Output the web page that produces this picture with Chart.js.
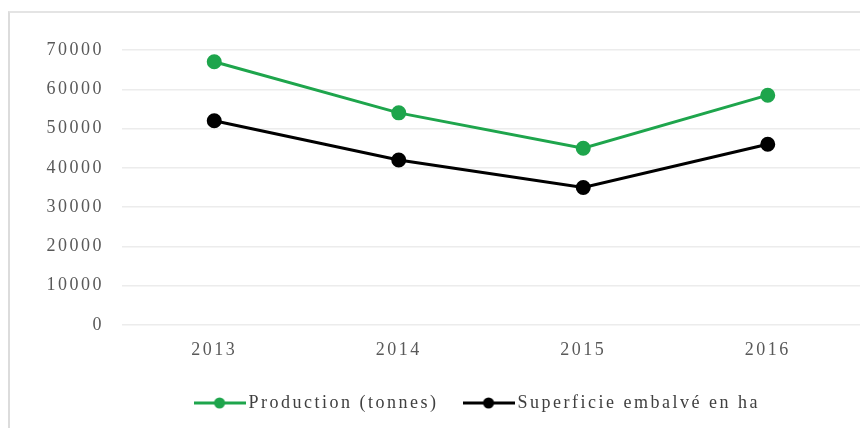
<!DOCTYPE html>
<html>
<head>
<meta charset="utf-8">
<script src="https://cdn.jsdelivr.net/npm/chart.js@4"></script>
<style>
  html, body { margin: 0; padding: 0; background: #fff; }
  #frame { position: absolute; left: 8px; top: 11px; width: 860px; height: 430px;
           border-left: 2px solid #dcdcdc; border-top: 2px solid #e4e4e4; }
  #wrap { position: absolute; left: 0; top: 0; width: 860px; height: 428px; }
</style>
</head>
<body>
<div id="frame"></div>
<div id="wrap"><canvas id="lineChart" width="860" height="428"></canvas></div>
<script>
  const years = ['2013', '2014', '2015', '2016'];
  const production = [67000, 54000, 45000, 58500];
  const superficie = [52000, 42000, 35000, 46000];
  const yTicks = [0, 10000, 20000, 30000, 40000, 50000, 60000, 70000];

  const green = '#1ea54c';
  const black = '#000000';

  // little line + dot icon for the legend
  function legendIcon(color) {
    const c = document.createElement('canvas');
    c.width = 52; c.height = 14;
    const g = c.getContext('2d');
    g.strokeStyle = color;
    g.lineWidth = 3;
    g.beginPath(); g.moveTo(0, 7); g.lineTo(52, 7); g.stroke();
    g.fillStyle = color;
    g.beginPath(); g.arc(26, 7, 5.5, 0, Math.PI * 2); g.fill();
    return c;
  }

  const spacing = {
    id: 'spacing',
    beforeInit(chart) { chart.ctx.letterSpacing = '2.5px'; },
    beforeDraw(chart) { chart.ctx.letterSpacing = '2.5px'; },
    afterLayout(chart) {
      // legend sits a little right of the canvas middle in the original
      chart.legend.left = 39;
      chart.legend.right = 813;
    }
  };

  const ctx = document.getElementById('lineChart').getContext('2d');
  const chart = new Chart(ctx, {
    type: 'line',
    data: {
      labels: years,
      datasets: [{
        label: 'Production (tonnes)',
        data: production,
        borderColor: green,
        backgroundColor: green,
        borderWidth: 3,
        pointRadius: 6,
        pointHoverRadius: 6,
        tension: 0
      }, {
        label: 'Superficie embalvé en ha',
        data: superficie,
        borderColor: black,
        backgroundColor: black,
        borderWidth: 3,
        pointRadius: 6,
        pointHoverRadius: 6,
        tension: 0
      }]
    },
    options: {
      responsive: false,
      animation: false,
      layout: { autoPadding: false, padding: { left: 0, right: -2, top: 50, bottom: 6 } },
      scales: {
        x: {
          offset: true,
          grid: { display: false },
          border: { display: false },
          ticks: { color: '#595959', padding: 6, font: { family: 'Liberation Serif', size: 18 } },
          afterFit(scale) { scale.height = 39; }
        },
        y: {
          min: 0,
          max: 70000,
          afterBuildTicks(scale) { scale.ticks = yTicks.map(v => ({ value: v })); },
          grid: { color: '#ececec', lineWidth: 1.5, drawTicks: false },
          border: { display: false },
          ticks: {
            color: '#595959', padding: 18, font: { family: 'Liberation Serif', size: 18 },
            callback: v => String(v)
          },
          afterFit(scale) { scale.width = 122; }
        }
      },
      plugins: {
        tooltip: { enabled: false },
        legend: {
          position: 'bottom',
          labels: {
            color: '#404040',
            font: { family: 'Liberation Serif', size: 18 },
            usePointStyle: true,
            pointStyleWidth: 40,
            padding: 30,
            generateLabels(chart) {
              return chart.data.datasets.map((ds, i) => ({
                text: ds.label,
                pointStyle: legendIcon(ds.borderColor),
                fillStyle: ds.borderColor,
                strokeStyle: ds.borderColor,
                lineWidth: 0,
                fontColor: '#404040',
                hidden: false,
                datasetIndex: i
              }));
            }
          }
        }
      }
    },
    plugins: [spacing]
  });
</script>
</body>
</html>
